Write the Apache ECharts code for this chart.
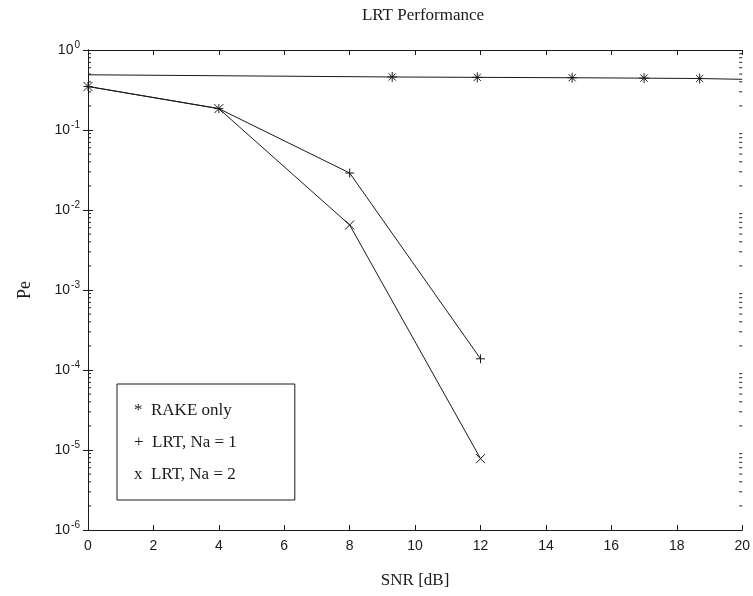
<!DOCTYPE html>
<html>
<head>
<meta charset="utf-8">
<script src="https://cdn.jsdelivr.net/npm/echarts@6/dist/echarts.min.js"></script>
<style>
  html, body { margin: 0; padding: 0; background: #fff; }
  #chart { width: 753px; height: 596px; }
</style>
</head>
<body>
<div id="chart"></div>
<script>
// 数据：从图上读出来的估计值
const rakeSnr = [0, 9.3, 11.9, 14.8, 17.0, 18.7, 20];
const rakePe = [0.49, 0.46, 0.455, 0.45, 0.445, 0.44, 0.43];
const rakeMarked = [false, true, true, true, true, true, false];
const lrtSnr = [0, 4, 8, 12];
const lrtNa1Pe = [0.35, 0.185, 0.029, 1.38e-4];
const lrtNa2Pe = [0.35, 0.185, 0.0065, 7.8e-6];
const legendGlyph = { 'RAKE only': '*', 'LRT, Na = 1': '+', 'LRT, Na = 2': 'x' };

const INK = '#1a1a1a';
const SERIF = '"Liberation Serif", "DejaVu Serif", serif';
const SANS = '"Liberation Sans", Arial, sans-serif';

// 标记符号（MATLAB 风格）
const symStar = 'path://M0,-5L0,5M-5,0L5,0M-3.6,-3.6L3.6,3.6M-3.6,3.6L3.6,-3.6';
const symPlus = 'path://M0,-5L0,5M-5,0L5,0';
const symCross = 'path://M-5,-5L5,5M-5,5L5,-5';

// 对数轴的次刻度 2..9
const minorVals = [];
for (let d = -6; d < 0; d++) {
  for (let k = 2; k <= 9; k++) minorVals.push([0, k * Math.pow(10, d)]);
}

const chart = echarts.init(document.getElementById('chart'));

const tickStyle = { inside: true, length: 5, lineStyle: { color: INK, width: 1 } };
const lineStyle = { color: INK, width: 1 };

const option = {
  backgroundColor: '#fff',
  animation: false,
  title: {
    text: 'LRT Performance',
    left: 418,
    textAlign: 'center',
    top: 2,
    textStyle: { fontFamily: SERIF, fontSize: 17, fontWeight: 'normal', color: INK }
  },
  grid: { left: 88, right: 6, top: 50, bottom: 66 },
  legend: {
    left: 117,
    top: 384,
    orient: 'vertical',
    data: ['RAKE only', 'LRT, Na = 1', 'LRT, Na = 2'],
    icon: 'none',
    itemWidth: 0,
    itemHeight: 17,
    itemGap: 15,
    padding: [18, 58, 17, 12],
    borderColor: INK,
    borderWidth: 1,
    backgroundColor: '#fff',
    formatter: name => legendGlyph[name] + '  ' + name,
    textStyle: { fontFamily: SERIF, fontSize: 17, color: INK }
  },
  xAxis: [{
    type: 'value',
    min: 0, max: 20, interval: 2,
    name: 'SNR [dB]',
    nameLocation: 'middle',
    nameGap: 42,
    nameTextStyle: { fontFamily: SERIF, fontSize: 17, color: INK },
    axisLine: { lineStyle: lineStyle },
    axisTick: tickStyle,
    axisLabel: { fontFamily: SANS, fontSize: 14, color: INK, margin: 9 },
    splitLine: { show: false }
  }, {
    type: 'value',
    position: 'top',
    min: 0, max: 20, interval: 2,
    axisLine: { show: true, lineStyle: lineStyle },
    axisTick: tickStyle,
    axisLabel: { show: false },
    splitLine: { show: false }
  }],
  yAxis: [{
    type: 'log',
    logBase: 10,
    min: 1e-6, max: 1,
    name: 'Pe',
    nameLocation: 'middle',
    nameGap: 54,
    nameRotate: 90,
    nameTextStyle: { fontFamily: SERIF, fontSize: 18, color: INK },
    axisLine: { show: true, lineStyle: lineStyle },
    axisTick: tickStyle,
    axisLabel: {
      margin: 8,
      formatter: v => '{b|10}{s|' + Math.round(Math.log10(v)) + '}',
      rich: {
        b: { fontFamily: SANS, fontSize: 14, color: INK },
        s: { fontFamily: SANS, fontSize: 10, color: INK, padding: [0, 0, 10, 1] }
      }
    },
    splitLine: { show: false }
  }, {
    type: 'log',
    logBase: 10,
    min: 1e-6, max: 1,
    position: 'right',
    axisLine: { show: true, lineStyle: lineStyle },
    axisTick: tickStyle,
    axisLabel: { show: false },
    splitLine: { show: false }
  }],
  series: [{
    name: 'minor',
    type: 'custom',
    silent: true,
    data: minorVals,
    renderItem: (params, api) => {
      const l = api.coord([0, api.value(1)]);
      const r = api.coord([20, api.value(1)]);
      return {
        type: 'group',
        children: [
          { type: 'line', shape: { x1: l[0], y1: l[1], x2: l[0] + 3, y2: l[1] }, style: { stroke: INK, lineWidth: 1 } },
          { type: 'line', shape: { x1: r[0], y1: r[1], x2: r[0] - 3, y2: r[1] }, style: { stroke: INK, lineWidth: 1 } }
        ]
      };
    }
  }, {
    name: 'RAKE only',
    type: 'line',
    symbol: symStar,
    symbolSize: 10,
    lineStyle: lineStyle,
    itemStyle: { color: INK, borderColor: INK, borderWidth: 1 },
    data: rakeSnr.map((x, i) => ({ value: [x, rakePe[i]], symbolSize: rakeMarked[i] ? 10 : 0 }))
  }, {
    name: 'LRT, Na = 1',
    type: 'line',
    symbol: symPlus,
    symbolSize: 9,
    lineStyle: lineStyle,
    itemStyle: { color: INK, borderColor: INK, borderWidth: 1 },
    data: lrtSnr.map((x, i) => [x, lrtNa1Pe[i]])
  }, {
    name: 'LRT, Na = 2',
    type: 'line',
    symbol: symCross,
    symbolSize: 9,
    lineStyle: lineStyle,
    itemStyle: { color: INK, borderColor: INK, borderWidth: 1 },
    data: lrtSnr.map((x, i) => [x, lrtNa2Pe[i]])
  }]
};

chart.setOption(option);
</script>
</body>
</html>
